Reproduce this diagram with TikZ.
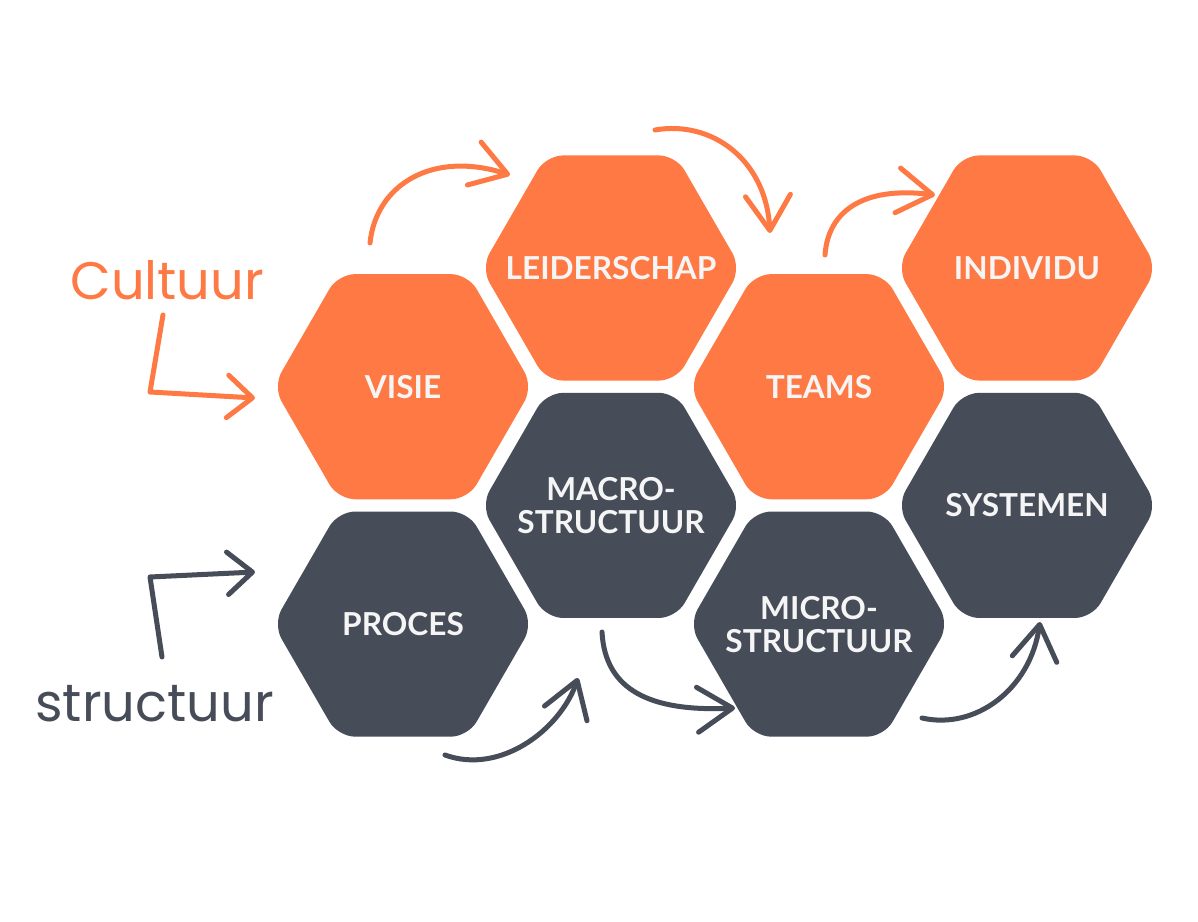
\documentclass[tikz,border=0pt]{standalone}
\usepackage{fontspec}
\setmainfont{Lato}
\newfontfamily\handfont{Poppins}
\usetikzlibrary{shapes.geometric, arrows.meta}
\definecolor{arancio}{HTML}{FF7944}
\definecolor{ardesia}{HTML}{474C59}
\tikzset{
    esagono/.style = {regular polygon, regular polygon sides = 6, minimum size = 5.2cm, inner sep = 0pt, rounded corners = 0.34cm, fill = #1},
    scritta/.style = {text = white!96!black, font = \bfseries\fontsize{18}{18.8}\selectfont, align = center, inner sep = 0pt},
    pennello/.style = {line width = 0.1cm, line cap = round, line join = round, draw = #1, -{Straight Barb[length = 0.7cm, width = 0.9cm, round]}},
    mano/.style = {font = \handfont\fontsize{30}{30}\selectfont, text = #1, inner sep = 0pt}
}

\begin{document}
\begin{tikzpicture}[x = 0.02cm, y = -0.02cm]
    % Parametri
    \pgfmathsetmacro{\dx}{208}
    \pgfmathsetmacro{\dy}{118.7}
    % Sfondo
    \fill[white] (0,0) rectangle (1198,922);
    % Esagoni
    \foreach \c/\r/\nome/\colore/\testo in {0/1/visie/arancio/VISIE, 1/0/leiderschap/arancio/LEIDERSCHAP, 2/1/teams/arancio/TEAMS, 3/0/individu/arancio/INDIVIDU, 0/3/proces/ardesia/PROCES, 1/2/macro/ardesia/{MACRO-\\STRUCTUUR}, 2/3/micro/ardesia/{MICRO-\\STRUCTUUR}, 3/2/systemen/ardesia/SYSTEMEN}{
        \node[esagono = \colore] (\nome) at ({403+\c*\dx},{268+\r*\dy}) {};
        \node[scritta] (\nome-testo) at (\nome) {\testo};
    }
    % Etichette
    \node[mano = arancio, anchor = base west] (cultuur) at (70,300) {Cultuur};
    \node[mano = ardesia, anchor = base west] (structuur) at (35,721) {structuur};
    % Frecce cultuur
    \coordinate (v1) at (370,243);
    \coordinate (l1) at (510,175);
    \draw[pennello = arancio] (v1) .. controls (376,185) and (432,150) .. (l1);
    \coordinate (l2) at (655,130);
    \coordinate (t2) at (770,233);
    \draw[pennello = arancio] (l2) .. controls (712,120) and (766,160) .. (t2);
    \coordinate (t3) at (825,255);
    \coordinate (i3) at (935,195);
    \draw[pennello = arancio] (t3) .. controls (828,212) and (862,186) .. (i3);
    \coordinate (c1) at (163,315);
    \coordinate (c2) at (150,392);
    \coordinate (c3) at (255,398);
    \draw[pennello = arancio, -{Straight Barb[length = 0.5cm, width = 0.85cm, round]}] (c1) -- (c2) -- (c3);
    % Frecce structuur
    \coordinate (s1) at (162,657);
    \coordinate (s2) at (150,577);
    \coordinate (s3) at (255,572);
    \draw[pennello = ardesia, -{Straight Barb[length = 0.5cm, width = 0.85cm, round]}] (s1) -- (s2) -- (s3);
    \coordinate (p6) at (445,755);
    \coordinate (m6) at (578,678);
    \draw[pennello = ardesia] (p6) .. controls (500,775) and (560,730) .. (m6);
    \coordinate (m7) at (602,632);
    \coordinate (n7) at (735,708);
    \draw[pennello = ardesia] (m7) .. controls (605,690) and (650,712) .. (n7);
    \coordinate (n8) at (922,718);
    \coordinate (y8) at (1040,622);
    \draw[pennello = ardesia] (n8) .. controls (975,730) and (1030,690) .. (y8);
\end{tikzpicture}
\end{document}
